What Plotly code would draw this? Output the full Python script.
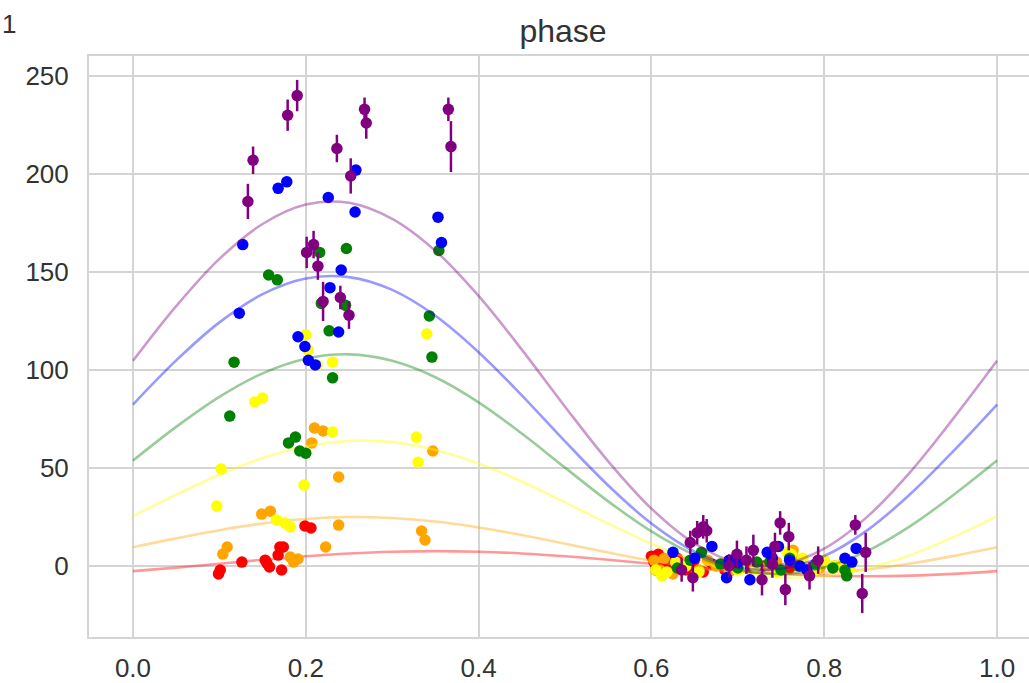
import plotly.graph_objects as go

# ---- phase-folded measurements, one group per band colour ----
red_x = [0.101, 0.099, 0.126, 0.153, 0.155, 0.158, 0.168, 0.170, 0.174, 0.172, 0.199, 0.206,
         0.600, 0.603, 0.605, 0.608, 0.612, 0.618, 0.625, 0.630, 0.640, 0.645, 0.650, 0.660,
         0.670, 0.685, 0.700, 0.715, 0.730, 0.740, 0.760, 0.780]
red_y = [-2, -4, 2, 3, 1.5, -0.5, 5.6, 9.7, 9.7, -2, 20.4, 19.4,
         5, 2, -2, 6, -1, 3, 0, 4, -2, 0, 3, -3,
         1, -2, 1, -1, 0, 2, -1, -2]

orange_x = [0.210, 0.220, 0.207, 0.238, 0.347, 0.149, 0.159, 0.238, 0.334, 0.338, 0.223, 0.109,
            0.104, 0.182, 0.191, 0.186,
            0.603, 0.610, 0.615, 0.625, 0.632, 0.640, 0.655, 0.665, 0.675, 0.690, 0.700, 0.720,
            0.735, 0.745, 0.764, 0.770, 0.795, 0.812, 0.826]
orange_y = [70.4, 68.9, 62.8, 45.4, 58.7, 26.5, 28, 20.9, 17.9, 13.3, 9.7, 9.7,
            6.1, 4.6, 3.6, 2,
            3, -2, 4, -4, -1, 2, -2, 3, 0, -3, 1, -1,
            0, 2, 8, 3, -1, 0, -3]

yellow_x = [0.200, 0.203, 0.213, 0.231, 0.340, 0.150, 0.141, 0.231, 0.328, 0.330, 0.102, 0.198,
            0.097, 0.166, 0.176, 0.182,
            0.605, 0.612, 0.618, 0.628, 0.640, 0.655, 0.680, 0.700, 0.720, 0.745, 0.757, 0.762,
            0.775, 0.790, 0.800, 0.810, 0.820, 0.830]
yellow_y = [118, 110, 102.6, 104, 118.4, 85.7, 83.7, 68.4, 65.8, 53, 49.5, 41.3,
            30.6, 23.5, 21.9, 20,
            -2, -5, -3, 2, 0, -3, 1, -2, 0, -3, 7, 6,
            4, -2, 3, 0, 1, -1]

green_x = [0.247, 0.216, 0.157, 0.167, 0.218, 0.246, 0.343, 0.227, 0.354, 0.117, 0.346, 0.231,
           0.112, 0.180, 0.188, 0.193, 0.200,
           0.630, 0.645, 0.658, 0.680, 0.700, 0.722, 0.737, 0.750, 0.760, 0.770, 0.790, 0.810,
           0.824, 0.826]
green_y = [162, 160, 148.5, 146, 134, 133, 127.6, 120, 161, 104, 106.6, 96,
           76.5, 62.8, 65.8, 58.7, 57.6,
           -1, 3, 7, 1, -1, 2, 2, -2, 4, 0, 1, -1,
           -2, -5]

blue_x = [0.168, 0.178, 0.226, 0.258, 0.257, 0.353, 0.357, 0.127, 0.241, 0.228, 0.123, 0.238,
          0.191, 0.199, 0.203, 0.211,
          0.625, 0.650, 0.670, 0.687, 0.690, 0.700, 0.714, 0.734, 0.740, 0.747, 0.760, 0.772,
          0.780, 0.824, 0.832, 0.837]
blue_y = [192.7, 196, 188, 202, 180.6, 178, 165, 164, 151, 142, 129, 119.4,
          117, 112, 105, 102.6,
          7, 4, 10, -6, 3, 2, -7, 7, 4, 10, 3, 0,
          -2, 4, 2, 9]

purple_x = [0.133, 0.139, 0.179, 0.190, 0.201, 0.209, 0.214, 0.220, 0.236, 0.240, 0.250, 0.252,
            0.268, 0.270, 0.365, 0.368,
            0.635, 0.645, 0.653, 0.660, 0.648, 0.664, 0.699, 0.718, 0.728, 0.740, 0.743, 0.749,
            0.759, 0.755, 0.783, 0.793, 0.836, 0.848, 0.844, 0.710, 0.690]
purple_y = [186, 207, 230, 240, 160, 164, 153, 135, 213, 137, 128, 199,
            233, 226, 233, 214,
            -2, 12, 17, 20, -6, 18, 6, 8, -7, 1, 10, 22,
            15, -12, -5, 3, 21, 7, -14, 3, 0]
purple_err = [9, 7, 8, 8, 8, 7, 7, 10, 7, 6, 7, 9,
              6, 8, 6, 13,
              6, 6, 6, 6, 7, 6, 7, 8, 8, 7, 7, 6,
              7, 8, 7, 7, 5, 10, 10, 7, 6]

# error on the fainter bands (barely wider than the marker)
small_err = 2.5

# ---- fitted sinusoid per band, sampled on a phase grid ----
curve_x = [0.00, 0.05, 0.10, 0.15, 0.20, 0.25, 0.30, 0.35, 0.40, 0.45, 0.50,
           0.55, 0.60, 0.65, 0.70, 0.75, 0.80, 0.85, 0.90, 0.95, 1.00]
red_fit = [-2.6, -0.8, 1.2, 3.2, 5.0, 6.4, 7.3, 7.6, 7.3, 6.4, 5.0,
           3.2, 1.2, -0.8, -2.6, -4.0, -4.9, -5.2, -4.9, -4.0, -2.6]
orange_fit = [9.6, 14.1, 18.3, 21.7, 24.0, 25.0, 24.5, 22.7, 19.7, 15.8, 11.4,
              6.9, 2.7, -0.7, -3.0, -4.0, -3.5, -1.7, 1.3, 5.2, 9.6]
yellow_fit = [25.5, 36.4, 46.6, 55.1, 61.0, 63.8, 63.2, 59.2, 52.3, 43.1, 32.5,
              21.6, 11.4, 2.9, -3.0, -5.8, -5.2, -1.2, 5.7, 14.9, 25.5]
green_fit = [53.8, 71.0, 86.3, 98.3, 105.8, 108.0, 104.7, 96.3, 83.5, 67.6, 50.2,
             33.0, 17.7, 5.7, -1.8, -4.0, -0.7, 7.7, 20.5, 36.4, 53.8]
blue_fit = [82.4, 104.9, 124.3, 138.7, 146.7, 147.4, 140.9, 127.7, 109.1, 87.1, 63.6,
            41.1, 21.7, 7.3, -0.7, -1.4, 5.1, 18.3, 36.9, 58.9, 82.4]
purple_fit = [104.7, 132.6, 156.7, 174.5, 184.4, 185.3, 177.1, 160.8, 137.8, 110.4, 81.3,
              53.4, 29.3, 11.5, 1.6, 0.7, 8.9, 25.2, 48.2, 75.6, 104.7]

x_ticks = [0.0, 0.2, 0.4, 0.6, 0.8, 1.0]
x_tick_text = ["0.0", "0.2", "0.4", "0.6", "0.8", "1.0"]
y_ticks = [0, 50, 100, 150, 200, 250]
y_tick_text = ["0", "50", "100", "150", "200", "250"]

bands = [
    ("red", (255, 0, 0), red_x, red_y, None, red_fit),
    ("orange", (255, 165, 0), orange_x, orange_y, None, orange_fit),
    ("yellow", (255, 255, 0), yellow_x, yellow_y, None, yellow_fit),
    ("green", (0, 128, 0), green_x, green_y, None, green_fit),
    ("blue", (0, 0, 255), blue_x, blue_y, None, blue_fit),
    ("purple", (128, 0, 128), purple_x, purple_y, purple_err, purple_fit),
]

fig = go.Figure()

for name, (r, g, b), xs, ys, errs, fit in bands:
    solid = f"rgb({r},{g},{b})"
    faint = f"rgba({r},{g},{b},0.4)"
    if errs is None:
        err = dict(type="constant", value=small_err, color=solid, thickness=2.5, width=0)
    else:
        err = dict(type="data", array=errs, color=solid, thickness=2.5, width=0)
    fig.add_trace(go.Scatter(
        x=xs, y=ys, mode="markers", name=name,
        marker=dict(color=solid, size=11.5, line=dict(width=0)),
        error_y=err, showlegend=False,
    ))
    fig.add_trace(go.Scatter(
        x=curve_x, y=fit, mode="lines", name=name + " fit",
        line=dict(color=faint, width=2.6, shape="spline", smoothing=1.0),
        showlegend=False, hoverinfo="skip",
    ))

grid = "#d4d4d4"
text_color = "#333333"
tick_font = dict(family="Liberation Sans", size=26, color=text_color)

fig.update_layout(
    width=1029, height=683,
    margin=dict(l=89, r=0, t=56, b=46),
    paper_bgcolor="white", plot_bgcolor="white",
    title=dict(text="phase", xref="paper", x=(563 - 89) / 940, xanchor="center",
               yref="container", y=1 - 31 / 683, yanchor="middle",
               font=dict(family="Liberation Sans", size=32, color=text_color)),
    xaxis=dict(range=[-0.0509, 1.037], tickvals=x_ticks, ticktext=x_tick_text,
               showgrid=True, gridcolor=grid, gridwidth=2,
               showline=True, linecolor=grid, linewidth=2, mirror=True,
               zeroline=False, ticks="outside", ticklen=7, tickcolor="rgba(0,0,0,0)",
               tickfont=tick_font, automargin=False),
    yaxis=dict(range=[-36.2, 260.2], tickvals=y_ticks, ticktext=y_tick_text,
               showgrid=True, gridcolor=grid, gridwidth=2,
               showline=True, linecolor=grid, linewidth=2, mirror=True,
               zeroline=False, ticks="outside", ticklen=13, tickcolor="rgba(0,0,0,0)",
               tickfont=tick_font, automargin=False),
    annotations=[dict(text="1", xref="paper", yref="paper",
                      x=-89 / 940, y=1 + 32 / 581,
                      xanchor="left", yanchor="middle", showarrow=False,
                      font=dict(family="Liberation Sans", size=26, color=text_color))],
)

fig.write_html("out.html")
